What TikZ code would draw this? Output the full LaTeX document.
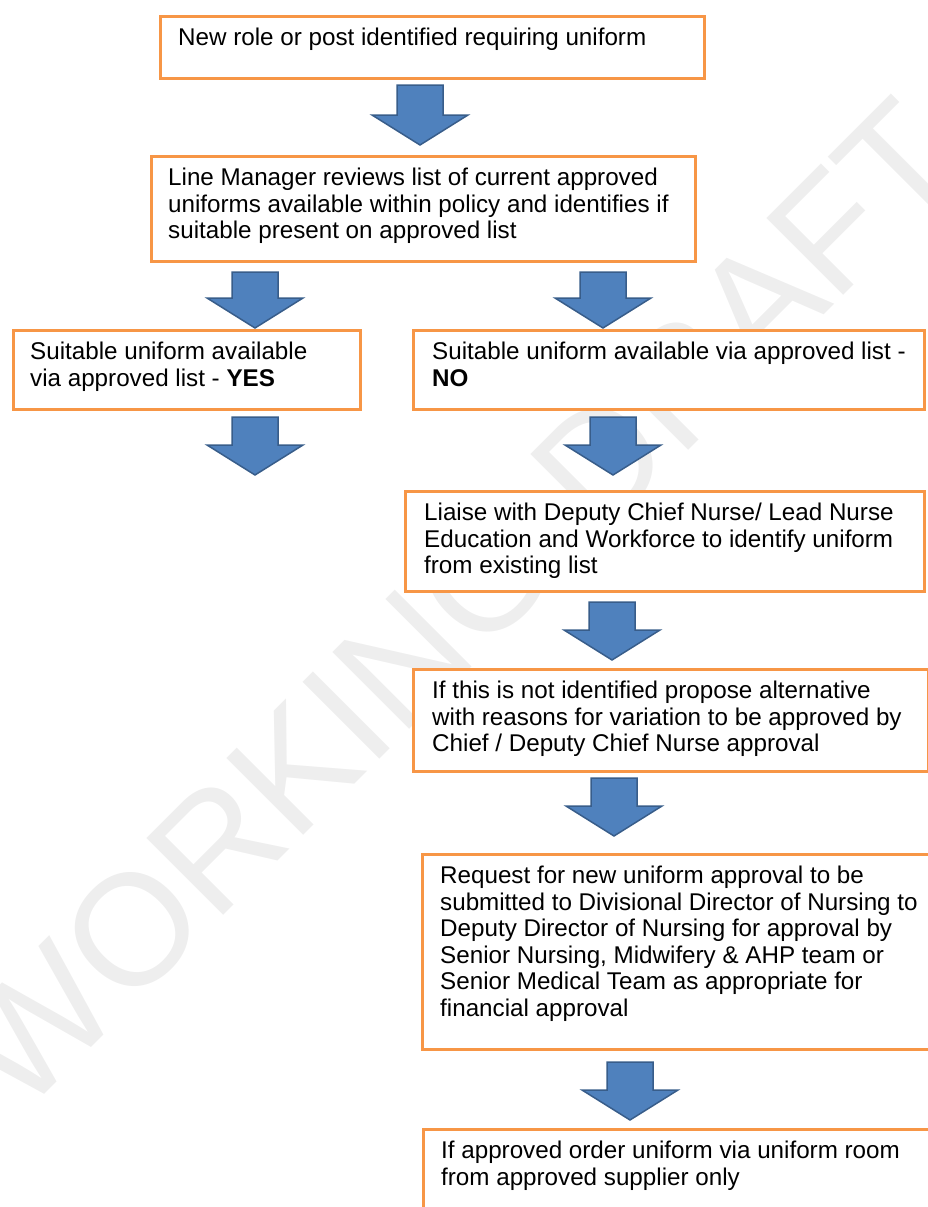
\documentclass[tikz,border=0pt]{standalone}
\usepackage{fontspec}
\setmainfont{Liberation Sans}
\usetikzlibrary{calc}
\definecolor{boxorange}{RGB}{247,150,70}
\definecolor{arrowfill}{RGB}{79,129,189}
\definecolor{arrowedge}{RGB}{56,93,138}
\definecolor{wmgrey}{RGB}{238,238,238}
\begin{document}
\begin{tikzpicture}[x=1pt,y=-1pt]
		\tikzset{stepbox/.style = {draw=boxorange,fill=white,line width=3pt,anchor=north west,inner sep=0pt}}
		\tikzset{steptext/.style = {anchor=north west,align=left,inner sep=0pt,font=\fontsize{24.2}{26.5}\selectfont}}
		\tikzset{watermark/.style = {text=wmgrey,rotate=45,inner sep=0pt,font=\fontsize{158}{158}\selectfont}}
		\tikzset{blockarrow/.style = {draw=arrowedge,fill=arrowfill,line width=1.5pt,
			to path={let \p1=(\tikztostart), \p2=(\tikztotarget) in
				(\x1-23pt,\y1) -- (\x1+23pt,\y1) -- (\x1+23pt,\y2+30pt) -- (\x1+48pt,\y2+30pt)
				-- (\x2,\y2) -- (\x1-48pt,\y2+30pt) -- (\x1-23pt,\y2+30pt) -- cycle}}}
		\clip (0,0) rectangle (928,1207);
		\node[watermark] (wm) at (458,604) {WORKING DRAFT};
		% boxes
		\node[stepbox,minimum width=544pt,minimum height=62pt] (b1) at (159,15) {};
		\node[stepbox,minimum width=544pt,minimum height=105pt] (b2) at (150,155) {};
		\node[stepbox,minimum width=347pt,minimum height=79pt] (yes) at (12,329) {};
		\node[stepbox,minimum width=511pt,minimum height=79pt] (no) at (412,329) {};
		\node[stepbox,minimum width=519pt,minimum height=100pt] (liaise) at (404,490) {};
		\node[stepbox,minimum width=515pt,minimum height=102pt] (propose) at (412,668) {};
		\node[stepbox,minimum width=520pt,minimum height=195pt] (request) at (421,853) {};
		\node[stepbox,minimum width=520pt,minimum height=100pt] (order) at (422,1128) {};
		% texts
		\node[steptext] (t1) at ($(b1.north west)+(19,13)$) {New role or post identified requiring uniform};
		\node[steptext] (t2) at ($(b2.north west)+(18,13)$) {Line Manager reviews list of current approved\\uniforms available within policy and identifies if\\suitable present on approved list};
		\node[steptext] (tyes) at ($(yes.north west)+(18,13)$) {Suitable uniform available\\via approved list - \textbf{YES}};
		\node[steptext] (tno) at ($(no.north west)+(20,13)$) {Suitable uniform available via approved list -\\\textbf{NO}};
		\node[steptext] (tliaise) at ($(liaise.north west)+(20,13)$) {Liaise with Deputy Chief Nurse/ Lead Nurse\\Education and Workforce to identify uniform\\from existing list};
		\node[steptext] (tpropose) at ($(propose.north west)+(20,13)$) {If this is not identified propose alternative\\with reasons for variation to be approved by\\Chief / Deputy Chief Nurse approval};
		\node[steptext] (trequest) at ($(request.north west)+(19,13)$) {Request for new uniform approval to be\\submitted to Divisional Director of Nursing to\\Deputy Director of Nursing for approval by\\Senior Nursing, Midwifery \& AHP team or\\Senior Medical Team as appropriate for\\financial approval};
		\node[steptext] (torder) at ($(order.north west)+(19,13)$) {If approved order uniform via uniform room\\from approved supplier only};
		% arrows
		\coordinate (a1s) at (420,85);   \coordinate (a1e) at (420,145);
		\coordinate (a2s) at (255,272);  \coordinate (a2e) at (255,328);
		\coordinate (a3s) at (603,272);  \coordinate (a3e) at (603,328);
		\coordinate (a4s) at (255,417);  \coordinate (a4e) at (255,475);
		\coordinate (a5s) at (613,417);  \coordinate (a5e) at (613,475);
		\coordinate (a6s) at (612,602);  \coordinate (a6e) at (612,660);
		\coordinate (a7s) at (614,778);  \coordinate (a7e) at (614,836);
		\coordinate (a8s) at (630,1062); \coordinate (a8e) at (630,1120);
		\draw[blockarrow] (a1s) to (a1e);
		\draw[blockarrow] (a2s) to (a2e);
		\draw[blockarrow] (a3s) to (a3e);
		\draw[blockarrow] (a4s) to (a4e);
		\draw[blockarrow] (a5s) to (a5e);
		\draw[blockarrow] (a6s) to (a6e);
		\draw[blockarrow] (a7s) to (a7e);
		\draw[blockarrow] (a8s) to (a8e);
	\end{tikzpicture}
\end{document}
